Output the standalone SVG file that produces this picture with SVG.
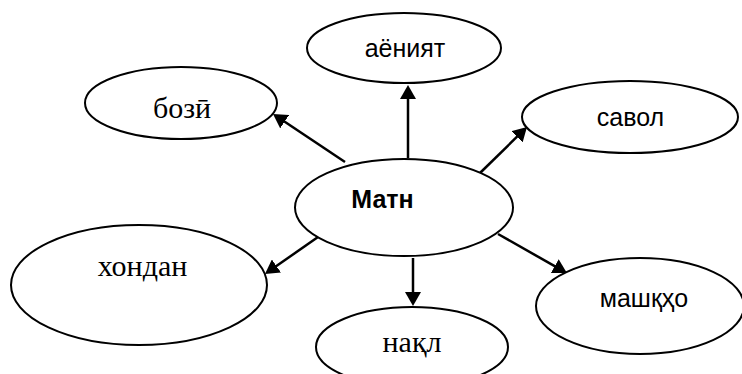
<svg xmlns="http://www.w3.org/2000/svg" width="742" height="374" viewBox="0 0 742 374">
<style>
.node ellipse{fill:#fff;stroke:#000;stroke-width:2}
.sans{font-family:"Liberation Sans",Arial,sans-serif;font-size:25px;fill:#000;text-anchor:middle}
.serif{font-family:"Liberation Serif","Times New Roman",serif;font-size:30px;fill:#000;text-anchor:middle}
.bold{font-weight:bold}
.conn line{stroke:#000;stroke-width:2.5;marker-end:url(#ah)}
</style>
<defs>
<marker id="ah" viewBox="0 0 14 16" refX="8" refY="8" markerWidth="14" markerHeight="16" markerUnits="userSpaceOnUse" orient="auto">
<path d="M0,0 L14,8 L0,16 z" fill="#000"/>
</marker>
</defs>
<rect width="742" height="374" fill="#fff"/>
<g id="connectors" class="conn">
<line x1="408" y1="158" x2="408" y2="91"/>
<line x1="345" y1="162" x2="278" y2="117.3"/>
<line x1="480" y1="173" x2="522.7" y2="131.2"/>
<line x1="498" y1="234" x2="561.7" y2="270.1"/>
<line x1="413" y1="258" x2="413" y2="300"/>
<line x1="318" y1="237" x2="269.9" y2="270.6"/>
</g>
<g id="node-aeniyat" class="node"><ellipse cx="404" cy="48" rx="97" ry="35"/><text class="sans" x="405" y="57">аёният</text></g>
<g id="node-bozi" class="node"><ellipse cx="181" cy="103" rx="96" ry="36"/><text class="serif" x="182" y="118">бозӣ</text></g>
<g id="node-savol" class="node"><ellipse cx="630" cy="117" rx="108" ry="36"/><text class="sans" x="630.5" y="126">савол</text></g>
<g id="node-matn" class="node"><ellipse cx="404" cy="207.5" rx="109" ry="48.5"/><text class="sans bold" x="382.5" y="208">Матн</text></g>
<g id="node-khondan" class="node"><ellipse cx="139" cy="285" rx="128" ry="60"/><text class="serif" x="142.5" y="276">хондан</text></g>
<g id="node-naql" class="node"><ellipse cx="412" cy="347" rx="96" ry="40"/><text class="serif" x="412" y="352">нақл</text></g>
<g id="node-mashqho" class="node"><ellipse cx="640" cy="306" rx="104" ry="48"/><text class="sans" x="644" y="307">машқҳо</text></g>
</svg>
